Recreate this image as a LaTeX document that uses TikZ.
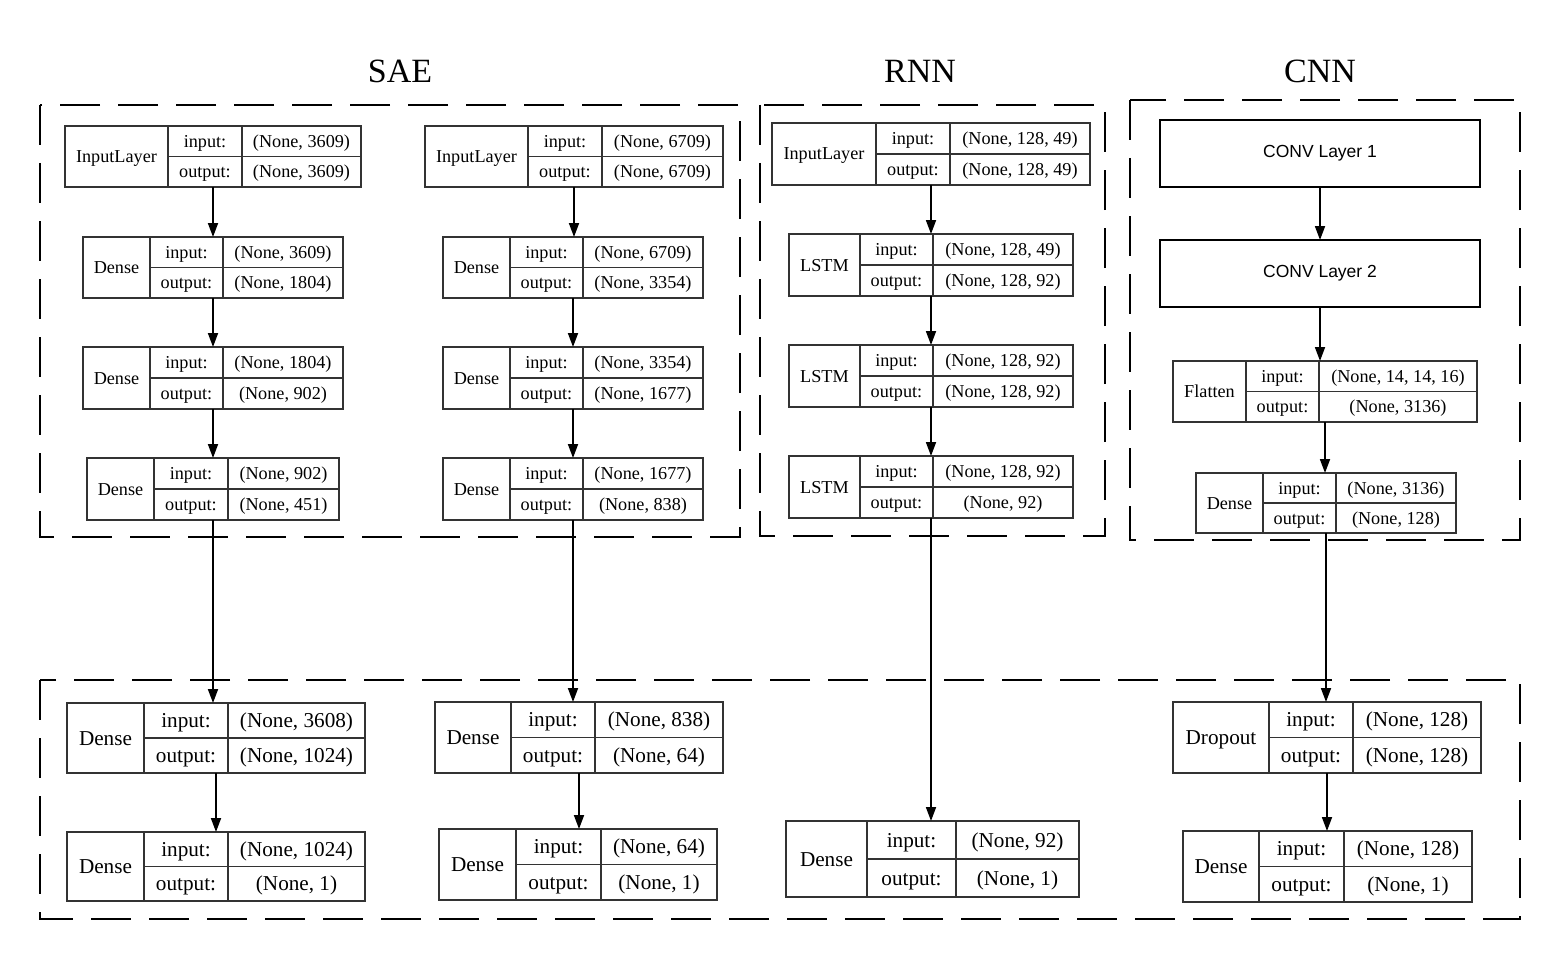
\documentclass[tikz,border=0pt]{standalone}
\usepackage{fontspec}
\setmainfont{Liberation Serif}
\newfontfamily\sansf{Liberation Sans}
\usetikzlibrary{arrows.meta}
\newcommand{\topf}{\fontsize{18.2}{21}\selectfont}
\newcommand{\botf}{\fontsize{21.2}{25}\selectfont}
\newcommand{\convf}{\fontsize{17.5}{20}\selectfont}
\newcommand{\ttlf}{\fontsize{34}{40}\selectfont}
\def\lparse#1/#2/#3/#4/#5/#6\relax{\def\xa{#1}\def\ya{#2}\def\xb{#3}\def\yb{#4}\def\da{#5}\def\db{#6}}
\newcommand{\lbox}[6][topt]{%
  \lparse#3\relax
  \node[lbx, minimum width={(\xb-\xa)*1pt}, minimum height={(\yb-\ya)*1pt}] (#2) at ({(\xa+\xb)/2},{(\ya+\yb)/2}) {};
  \draw[lbl] (\da,\ya) -- (\da,\yb);
  \draw[lbl] (\db,\ya) -- (\db,\yb);
  \draw[lbl] (\da,{(\ya+\yb)/2}) -- (\xb,{(\ya+\yb)/2});
  \node[txt, #1] (#2-t) at ({(\xa+\da)/2},{(\ya+\yb)/2}) {#4};
  \node[txt, #1] (#2-il) at ({(\da+\db)/2},{(3*\ya+\yb)/4}) {input:};
  \node[txt, #1] (#2-iv) at ({(\db+\xb)/2},{(3*\ya+\yb)/4}) {#5};
  \node[txt, #1] (#2-ol) at ({(\da+\db)/2},{(\ya+3*\yb)/4}) {output:};
  \node[txt, #1] (#2-ov) at ({(\db+\xb)/2},{(\ya+3*\yb)/4}) {#6};
}
\begin{document}
\begin{tikzpicture}[x=1pt,y=-1pt,
  lbx/.style={draw=black!80, line width=1.2pt, rectangle, inner sep=0pt, outer sep=0pt},
  lbl/.style={draw=black!80, line width=1.2pt},
  txt/.style={inner sep=0pt, text depth=0pt, anchor=center},
  topt/.style={font=\topf, text height=12pt},
  bott/.style={font=\botf, text height=14pt},
  convbox/.style={draw=black, line width=2pt, rectangle, inner sep=0pt, outer sep=0pt, minimum width=320pt, minimum height=67pt, font=\sansf\convf},
  arr/.style={draw=black, line width=1.8pt, -{Triangle[length=14pt,width=10pt]}},
  dbox/.style={draw=black, line width=2pt, dash pattern=on 40pt off 18pt},
  ttl/.style={inner sep=0pt, text height=22.5pt, text depth=0pt, font=\ttlf}
]
\useasboundingbox (0,0) rectangle (1560,960);
\fill[white] (0,0) rectangle (1560,960);

% titles
\node[ttl] (tsae) at (400,71.5) {SAE};
\node[ttl] (trnn) at (920,71.5) {RNN};
\node[ttl] (tcnn) at (1320,71.5) {CNN};

% dashed groups
\draw[dbox] (40,105) rectangle (740,537);
\draw[dbox] (760,105) rectangle (1105,536);
\draw[dbox] (1130,100) rectangle (1520,540);
\draw[dbox] (40,680) rectangle (1520,919);

% SAE column 1
\lbox{in1}{65/126/361/187/168/242}{InputLayer}{(None, 3609)}{(None, 3609)}
\lbox{d11}{83/237/343/298/150/223}{Dense}{(None, 3609)}{(None, 1804)}
\lbox{d12}{83/347/343/409/150/223}{Dense}{(None, 1804)}{(None, 902)}
\lbox{d13}{87/458/339/520/154/228}{Dense}{(None, 902)}{(None, 451)}

% SAE column 2
\lbox{in2}{425/126/723/187/528/602}{InputLayer}{(None, 6709)}{(None, 6709)}
\lbox{d21}{443/237/703/298/510/583}{Dense}{(None, 6709)}{(None, 3354)}
\lbox{d22}{443/347/703/409/510/583}{Dense}{(None, 3354)}{(None, 1677)}
\lbox{d23}{443/458/703/520/510/583}{Dense}{(None, 1677)}{(None, 838)}

% RNN
\lbox{in3}{772/123/1090/185/876/950}{InputLayer}{(None, 128, 49)}{(None, 128, 49)}
\lbox{l1}{789/234/1073/296/860/933}{LSTM}{(None, 128, 49)}{(None, 128, 92)}
\lbox{l2}{789/345/1073/407/860/933}{LSTM}{(None, 128, 92)}{(None, 128, 92)}
\lbox{l3}{789/456/1073/518/860/933}{LSTM}{(None, 128, 92)}{(None, 92)}

% CNN
\node[convbox] (conv1) at (1320,153.5) {CONV Layer 1};
\node[convbox] (conv2) at (1320,273.5) {CONV Layer 2};
\lbox{flat}{1173/361/1477/422/1246/1319}{Flatten}{(None, 14, 14, 16)}{(None, 3136)}
\lbox{cd}{1196/473/1456/533/1263/1336}{Dense}{(None, 3136)}{(None, 128)}

% bottom row
\lbox[bott]{b1a}{67/703/365/773/144/228}{Dense}{(None, 3608)}{(None, 1024)}
\lbox[bott]{b1b}{67/832/365/901/144/228}{Dense}{(None, 1024)}{(None, 1)}
\lbox[bott]{b2a}{435/702/723/773/511/595}{Dense}{(None, 838)}{(None, 64)}
\lbox[bott]{b2b}{439/829/717/900/516/601}{Dense}{(None, 64)}{(None, 1)}
\lbox[bott]{b3}{786/821/1079/897/867/956}{Dense}{(None, 92)}{(None, 1)}
\lbox[bott]{b4a}{1173/702/1481/773/1269/1353}{Dropout}{(None, 128)}{(None, 128)}
\lbox[bott]{b4b}{1183/831/1472/902/1259/1344}{Dense}{(None, 128)}{(None, 1)}

% arrows
\foreach \a/\b in {in1/d11, d11/d12, d12/d13, d13/b1a, b1a/b1b,
                   in2/d21, d21/d22, d22/d23, d23/b2a, b2a/b2b,
                   in3/l1, l1/l2, l2/l3, l3/b3,
                   conv1/conv2, conv2/flat, flat/cd, cd/b4a, b4a/b4b}
  \draw[arr] (\a.south) -- (\a.south |- \b.north);
\end{tikzpicture}
\end{document}
